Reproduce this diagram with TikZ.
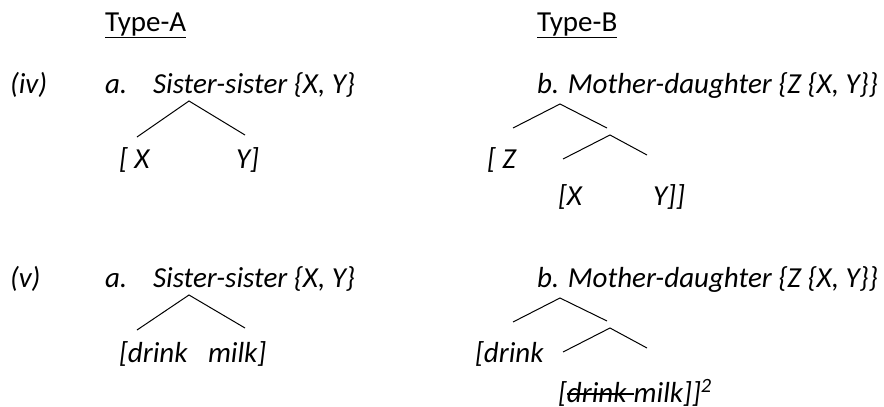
\documentclass[tikz,border=0pt]{standalone}
\usepackage{fontspec}
\setmainfont{Carlito}
\begin{document}
\begin{tikzpicture}[x=1pt,y=-1pt,
  txt/.style={anchor=base west,inner sep=0pt,outer sep=0pt,font=\fontsize{29}{34}\selectfont\itshape},
  head/.style={anchor=base west,inner sep=0pt,outer sep=0pt,font=\fontsize{29}{34}\selectfont},
  branch/.style={line width=1pt,black}]
\useasboundingbox[fill=white] (0,0) rectangle (884,407);

% column headings
\node[head] (ha) at (105,31) {\underline{Type-A}};
\node[head] (hb) at (537,31) {\underline{Type-B}};

% ---- example (iv) ----
\node[txt] (ivlab) at (10,93) {(iv)};
\node[txt] (iva) at (105,93) {a.};
\node[txt] (ivatitle) at (153,93) {Sister-sister \{X, Y\}};
\coordinate (ivaTop) at (189,101);
\coordinate (ivaL) at (137,137);
\coordinate (ivaR) at (245,135);
\draw[branch] (ivaL) -- (ivaTop) -- (ivaR);
\node[txt] (ivaX) at (119,168) {[ X};
\node[txt] (ivaY) at (236,168) {Y]};

\node[txt] (ivbtitle) at (537,93) {b. Mother-daughter \{Z \{X, Y\}\}};
\coordinate (ivbTop) at (560,104);
\coordinate (ivbL) at (513,128);
\coordinate (ivbR) at (607,128);
\coordinate (ivbMid) at (610,135);
\coordinate (ivbML) at (563,159);
\coordinate (ivbMR) at (647,155);
\draw[branch] (ivbL) -- (ivbTop) -- (ivbR);
\draw[branch] (ivbML) -- (ivbMid) -- (ivbMR);
\node[txt] (ivbZ) at (487,168) {[ Z};
\node[txt] (ivbX) at (558,205) {[X};
\node[txt] (ivbY) at (653,205) {Y]]};

% ---- example (v) ----
\node[txt] (vlab) at (10,287) {(v)};
\node[txt] (va) at (105,287) {a.};
\node[txt] (vatitle) at (153,287) {Sister-sister \{X, Y\}};
\coordinate (vaTop) at (189,295);
\coordinate (vaL) at (137,330);
\coordinate (vaR) at (245,328);
\draw[branch] (vaL) -- (vaTop) -- (vaR);
\node[txt] (vaD) at (119,362) {[drink};
\node[txt] (vaM) at (208,362) {milk]};

\node[txt] (vbtitle) at (537,287) {b. Mother-daughter \{Z \{X, Y\}\}};
\coordinate (vbTop) at (560,298);
\coordinate (vbL) at (513,322);
\coordinate (vbR) at (607,321);
\coordinate (vbMid) at (610,328);
\coordinate (vbML) at (563,352);
\coordinate (vbMR) at (647,348);
\draw[branch] (vbL) -- (vbTop) -- (vbR);
\draw[branch] (vbML) -- (vbMid) -- (vbMR);
\node[txt] (vbD) at (475,362) {[drink};
% bracketed copy with the struck-out lower "drink"
\node[txt] (vbB) at (558,402) {[};
\node[txt] (vbS) at (vbB.base east) {drink\kern0.25em};
\node[txt] (vbM) at (vbS.base east) {milk]]\textsuperscript{2}};
\draw[line width=1.3pt] ([yshift=8pt]vbS.base west) -- ([yshift=8pt]vbS.base east);
\end{tikzpicture}
\end{document}
